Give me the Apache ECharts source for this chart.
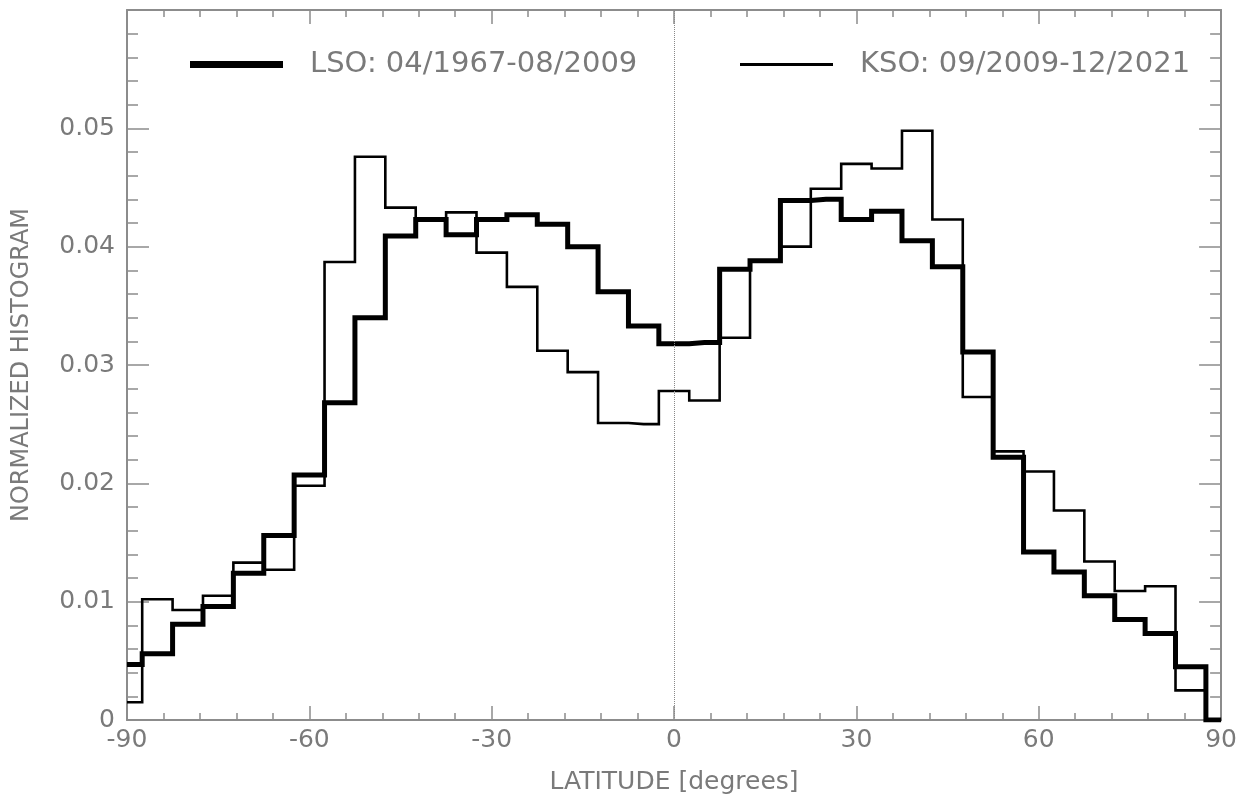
<!DOCTYPE html>
<html>
<head>
<meta charset="utf-8">
<script src="https://cdn.jsdelivr.net/npm/echarts@6/dist/echarts.min.js"></script>
<style>
html,body{margin:0;padding:0;background:#fff;}
#chart{width:1240px;height:800px;}
</style>
</head>
<body>
<div id="chart"></div>
<script>
// Bin centres (degrees latitude), 5-degree bins
const latitudes = [-90,-85,-80,-75,-70,-65,-60,-55,-50,-45,-40,-35,-30,-25,-20,-15,-10,-5,0,5,10,15,20,25,30,35,40,45,50,55,60,65,70,75,80,85,90];
const lsoValues = [0.0047,0.0056,0.0081,0.0096,0.0124,0.0156,0.0207,0.0268,0.0340,0.0409,0.0423,0.0410,0.0423,0.0427,0.0419,0.0400,0.0362,0.0333,0.0318,0.0319,0.0381,0.0388,0.0439,0.0440,0.0423,0.0430,0.0405,0.0383,0.0311,0.0222,0.0142,0.0125,0.0105,0.0085,0.0073,0.0045,0.0];
const ksoValues = [0.0015,0.0102,0.0093,0.0105,0.0133,0.0127,0.0198,0.0387,0.0476,0.0433,0.0423,0.0429,0.0395,0.0366,0.0312,0.0294,0.0251,0.0250,0.0278,0.0270,0.0323,0.0388,0.0400,0.0449,0.0470,0.0466,0.0498,0.0423,0.0273,0.0227,0.0210,0.0177,0.0134,0.0109,0.0113,0.0025,0.0];
const seriesNames = ['LSO: 04/1967-08/2009', 'KSO: 09/2009-12/2021'];
const xTitle = 'LATITUDE [degrees]';
const yTitle = 'NORMALIZED HISTOGRAM';

const axisGray = '#8c8c8c';
const textGray = '#7a7a7a';
const fontFam = 'DejaVu Sans';

const lsoData = latitudes.map((x, i) => [x, lsoValues[i]]);
const ksoData = latitudes.map((x, i) => [x, ksoValues[i]]);

const chart = echarts.init(document.getElementById('chart'), null, {renderer: 'canvas'});

function xAxisCfg(pos, showLabels) {
  return {
    type: 'value', position: pos, min: -90, max: 90, interval: 30,
    axisLine: {show: true, onZero: false, lineStyle: {color: axisGray, width: 2}},
    axisTick: {show: true, inside: true, length: 14, lineStyle: {color: axisGray, width: 1.5}},
    minorTick: {show: true, splitNumber: 5, length: 7, lineStyle: {color: axisGray, width: 1.5}},
    splitLine: {show: false},
    axisLabel: {show: showLabels, color: textGray, fontFamily: fontFam, fontSize: 25, margin: 8},
    name: showLabels ? xTitle : '', nameLocation: 'middle', nameGap: 50,
    nameTextStyle: {color: textGray, fontFamily: fontFam, fontSize: 25}
  };
}
function yAxisCfg(pos, showLabels) {
  return {
    type: 'value', position: pos, min: 0, max: 0.06, interval: 0.01,
    axisLine: {show: true, onZero: false, lineStyle: {color: axisGray, width: 2}},
    axisTick: {show: true, inside: true, length: 22, lineStyle: {color: axisGray, width: 1.5}},
    minorTick: {show: true, splitNumber: 5, length: 11, lineStyle: {color: axisGray, width: 1.5}},
    splitLine: {show: false},
    axisLabel: {
      show: showLabels, color: textGray, fontFamily: fontFam, fontSize: 25, margin: 12,
      formatter: function (v) {
        if (Math.abs(v) < 1e-9) return '0';
        if (v > 0.0595) return '';
        return v.toFixed(2);
      }
    },
    name: showLabels ? yTitle : '', nameLocation: 'middle', nameGap: 93, nameRotate: 90,
    nameTextStyle: {color: textGray, fontFamily: fontFam, fontSize: 24}
  };
}

const option = {
  backgroundColor: '#ffffff',
  animation: false,
  grid: {left: 127, right: 18, top: 10, bottom: 78, containLabel: false},
  xAxis: [xAxisCfg('bottom', true), xAxisCfg('top', false)],
  yAxis: [yAxisCfg('left', true), yAxisCfg('right', false)],
  legend: [
    {
      data: [{name: seriesNames[0], icon: 'rect', itemStyle: {color: '#000', borderWidth: 0}}],
      left: 185, top: 45, itemWidth: 93, itemHeight: 7,
      textStyle: {color: textGray, fontFamily: fontFam, fontSize: 29, padding: [0, 0, 0, 22]},
      selectedMode: false
    },
    {
      data: [{name: seriesNames[1], icon: 'rect', itemStyle: {color: '#000', borderWidth: 0}}],
      left: 735, top: 45, itemWidth: 93, itemHeight: 3,
      textStyle: {color: textGray, fontFamily: fontFam, fontSize: 29, padding: [0, 0, 0, 22]},
      selectedMode: false
    }
  ],
  series: [
    {
      name: seriesNames[1], type: 'line', step: 'middle', data: ksoData,
      xAxisIndex: 0, yAxisIndex: 0,
      symbol: 'none', showSymbol: false,
      lineStyle: {color: '#000', width: 2.6, join: 'miter', cap: 'butt'},
      itemStyle: {color: '#000'},
      z: 3,
      markLine: {
        silent: true, symbol: 'none', label: {show: false},
        lineStyle: {color: '#888', width: 1, type: 'dotted'},
        data: [{xAxis: 0}]
      }
    },
    {
      name: seriesNames[0], type: 'line', step: 'middle', data: lsoData,
      xAxisIndex: 0, yAxisIndex: 0,
      symbol: 'none', showSymbol: false,
      lineStyle: {color: '#000', width: 5, join: 'miter', cap: 'butt'},
      itemStyle: {color: '#000'},
      z: 4
    }
  ]
};
chart.setOption(option);
</script>
</body>
</html>
